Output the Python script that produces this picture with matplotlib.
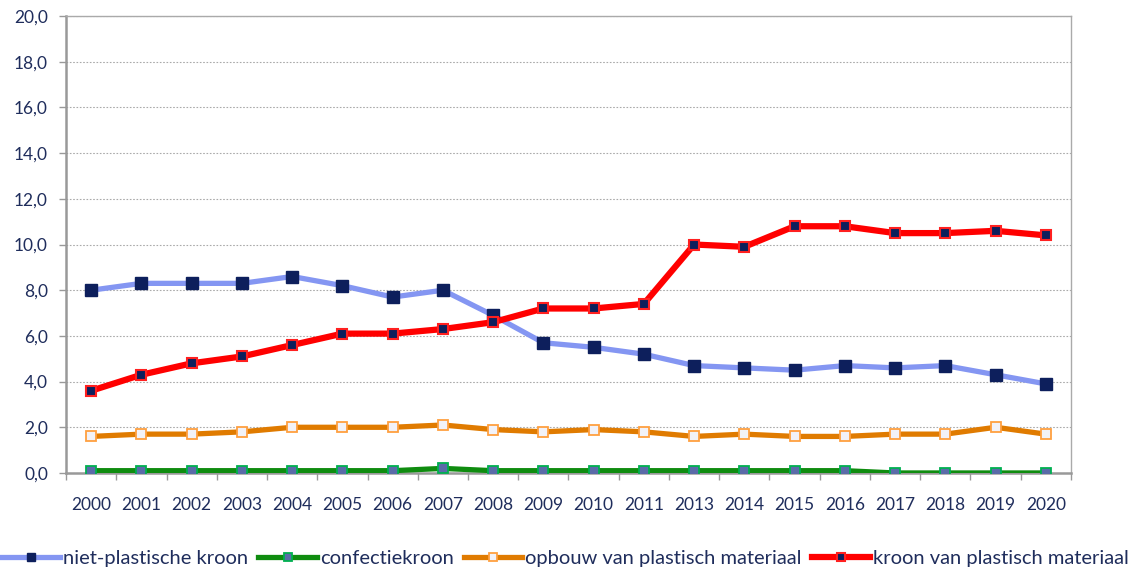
import matplotlib
matplotlib.use("Agg")
import matplotlib.pyplot as plt
from matplotlib.ticker import FuncFormatter, FixedLocator

years = ["2000", "2001", "2002", "2003", "2004", "2005", "2006", "2007", "2008", "2009",
         "2010", "2011", "2013", "2014", "2015", "2016", "2017", "2018", "2019", "2020"]
niet_plastisch = [8.0, 8.3, 8.3, 8.3, 8.6, 8.2, 7.7, 8.0, 6.9, 5.7,
                  5.5, 5.2, 4.7, 4.6, 4.5, 4.7, 4.6, 4.7, 4.3, 3.9]
confectie = [0.1, 0.1, 0.1, 0.1, 0.1, 0.1, 0.1, 0.2, 0.1, 0.1,
             0.1, 0.1, 0.1, 0.1, 0.1, 0.1, 0.0, 0.0, 0.0, 0.0]
opbouw = [1.6, 1.7, 1.7, 1.8, 2.0, 2.0, 2.0, 2.1, 1.9, 1.8,
          1.9, 1.8, 1.6, 1.7, 1.6, 1.6, 1.7, 1.7, 2.0, 1.7]
kroon_plastisch = [3.6, 4.3, 4.8, 5.1, 5.6, 6.1, 6.1, 6.3, 6.6, 7.2,
                   7.2, 7.4, 10.0, 9.9, 10.8, 10.8, 10.5, 10.5, 10.6, 10.4]

textcol = "#1F2D5C"
plt.rcParams['font.family'] = ['Lato', 'DejaVu Sans']

fig = plt.figure(figsize=(11.31, 5.74), dpi=100, facecolor="white")
ax = fig.add_axes([0.0584, 0.176, 0.8885, 0.796])

x = list(range(len(years)))
ax.plot(x, niet_plastisch, color="#8496F2", lw=3.8, marker="s", ms=8,
        mfc="#0D1F5C", mec="#0D1F5C", mew=1, label="niet-plastische kroon", zorder=3)
ax.plot(x, confectie, color="#0F8C0F", lw=3.8, marker="s", ms=7.5,
        mfc="#5A6BA8", mec="#00B050", mew=1.3, label="confectiekroon", zorder=3)
ax.plot(x, opbouw, color="#E07B00", lw=3.8, marker="s", ms=7.5,
        mfc="#F2F2F8", mec="#FFA040", mew=1.3, label="opbouw van plastisch materiaal", zorder=3)
ax.plot(x, kroon_plastisch, color="#FF0000", lw=4.5, marker="s", ms=7.5,
        mfc="#0D1F5C", mec="#FF2020", mew=1.5, label="kroon van plastisch materiaal", zorder=4)

ax.set_xlim(-0.5, len(years) - 0.5)
ax.set_ylim(0, 20)
ax.set_yticks(range(0, 21, 2))
ax.yaxis.set_major_formatter(FuncFormatter(lambda v, p: ("%.1f" % v).replace(".", ",")))
ax.set_xticks(x)
ax.set_xticklabels(years)
ax.xaxis.set_minor_locator(FixedLocator([i - 0.5 for i in range(len(years) + 1)]))
ax.tick_params(axis="x", which="major", length=0, pad=17, labelsize=12.5, labelcolor=textcol)
ax.tick_params(axis="x", which="minor", length=5, width=1, color="#999999", direction="out")
ax.tick_params(axis="y", length=5, width=1, color="#999999", labelsize=12.5, labelcolor=textcol, pad=8)

ax.grid(axis="y", linestyle=(0, (1.5, 1.5)), color="#AAAAAA", lw=0.8, zorder=0)
for s in ["left", "bottom"]:
    ax.spines[s].set_color("#999999")
    ax.spines[s].set_linewidth(1.8)
for s in ["top", "right"]:
    ax.spines[s].set_color("#AAAAAA")
    ax.spines[s].set_linewidth(1.0)

leg = fig.legend(loc="lower center", bbox_to_anchor=(0.5, -0.02), ncol=4, frameon=False,
                 fontsize=14.5, handlelength=2.9, handletextpad=0.15, columnspacing=0.5,
                 markerscale=0.8)
for t in leg.get_texts():
    t.set_color(textcol)

fig.savefig("out.png", dpi=100, facecolor="white")
